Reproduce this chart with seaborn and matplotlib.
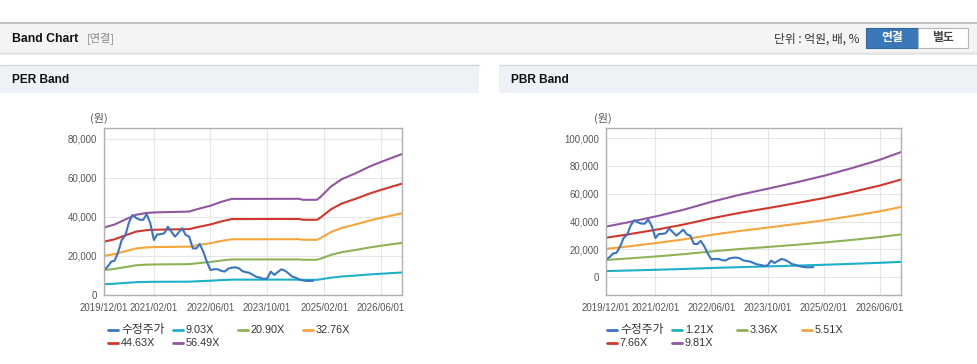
import pandas as pd
import numpy as np
import matplotlib.pyplot as plt
import matplotlib.dates as mdates
from matplotlib.patches import Rectangle
from matplotlib.lines import Line2D
from matplotlib.ticker import FuncFormatter
import seaborn as sns

# ---- data ----
price_start = '2019-12-01'
price = [12800, 14500, 17100, 17600, 22000, 28200, 30500, 37000, 41000, 39500,
         38600, 38500, 41500, 36800, 28200, 31000, 31200, 31600, 35000, 32500,
         29900, 32000, 34200, 30800, 29900, 23900, 23900, 26200, 22200, 17100,
         12800, 13200, 13200, 12400, 12000, 13500, 14000, 14200, 13700, 12300,
         11700, 11400, 10300, 9300, 8900, 8200, 8500, 12000, 10300, 11800,
         13200, 12500, 11100, 9500, 8900, 8000, 7500, 7200, 7200, 7300]

eps_dates = ['2019-12-01', '2020-03-01', '2020-06-01', '2020-09-01', '2020-12-01',
             '2021-03-01', '2021-12-01', '2022-03-01', '2022-06-01', '2022-09-01',
             '2022-12-01', '2024-07-01', '2024-08-01', '2024-12-01', '2025-01-01',
             '2025-04-01', '2025-07-01', '2025-11-01', '2026-03-01', '2026-06-01',
             '2026-09-01', '2026-12-01']
eps = [612, 640, 685, 728, 745, 750, 757, 785, 810, 845, 872, 873, 864, 864, 890,
       985, 1050, 1106, 1167, 1206, 1243, 1279]
per_multiples = [9.03, 20.90, 32.76, 44.63, 56.49]

bps_dates = ['2019-12-01', '2020-06-01', '2021-02-01', '2021-10-01', '2022-06-01',
             '2023-02-01', '2023-10-01', '2024-06-01', '2025-02-01', '2025-10-01',
             '2026-06-01', '2026-12-01']
bps = [3710, 4010, 4450, 4940, 5525, 6040, 6480, 6940, 7430, 7990, 8605, 9166]
pbr_multiples = [1.21, 3.36, 5.51, 7.66, 9.81]

band_colors = ['#1cb1c8', '#8db357', '#f5a53b', '#d1372c', '#9156a1']
price_color = '#3a74c4'
xtick_dates = ['2019-12-01', '2021-02-01', '2022-06-01', '2023-10-01', '2025-02-01', '2026-06-01']

# ---- style ----
sns.set_style('white')
plt.rcParams['font.family'] = ['Liberation Sans', 'Noto Sans CJK KR', 'DejaVu Sans']
KR = ['Noto Sans CJK KR', 'DejaVu Sans']

W, H = 978, 364
fig = plt.figure(figsize=(W / 100, H / 100), dpi=100)


def rect(x0, y0, x1, y1, **kw):
    fig.add_artist(Rectangle((x0 / W, 1 - y1 / H), (x1 - x0) / W, (y1 - y0) / H,
                             transform=fig.transFigure, **kw))


def hline(x0, x1, y, color, lw=1):
    fig.add_artist(Line2D([x0 / W, x1 / W], [1 - y / H, 1 - y / H],
                          transform=fig.transFigure, color=color, lw=lw))


def ftext(x, y, s, **kw):
    fig.text(x / W, 1 - y / H, s, **kw)


# top header bar
rect(0, 22.5, W, 52.5, facecolor='#f4f4f4', edgecolor='none')
hline(0, W, 22.5, '#b8b8b8', 1.2)
hline(0, W, 52.8, '#c6c6c6', 1.0)
hline(0, W, 54.0, '#e8e8e8', 1.2)
ftext(12, 38.5, 'Band Chart', fontsize=8.8, fontweight='bold', color='#111111', va='center')
ftext(87, 38.5, '[연결]', fontsize=8, color='#888888', va='center', family=KR)
ftext(860, 39, '단위 : 억원, 배, %', fontsize=8.5, color='#333333', va='center', ha='right', family=KR)
rect(866, 28, 918, 48, facecolor='#3a78b9', edgecolor='#2f67a3', lw=0.8)
rect(918, 28, 968, 48, facecolor='#ffffff', edgecolor='#b5b5b5', lw=0.8)
ftext(892, 38, '연결', fontsize=8.5, color='white', fontweight='bold', ha='center', va='center', family=KR)
ftext(943, 38, '별도', fontsize=8.5, color='#444444', fontweight='bold', ha='center', va='center', family=KR)

# panel headers
for x0, x1, title in [(0, 479, 'PER Band'), (499, W, 'PBR Band')]:
    rect(x0, 64.5, x1, 92.5, facecolor='#eef2f7', edgecolor='none')
    hline(x0, x1, 64.5, '#d6d6d6', 1.0)
    ftext(x0 + 12, 80, title, fontsize=8.6, fontweight='bold', color='#111111', va='center')


def make_bands(dates, base, multiples):
    frames = []
    for m in multiples:
        frames.append(pd.DataFrame({'date': pd.to_datetime(dates),
                                    'value': np.array(base) * m,
                                    'band': f'{m:.2f}X'}))
    return pd.concat(frames, ignore_index=True)


price_df = pd.DataFrame({'date': pd.date_range(price_start, periods=len(price), freq='MS'),
                         'value': price})


def draw_panel(rect_px, base_dates, base, multiples, yticks, ylim, unit_x, leg_x):
    x0, y0, x1, y1 = rect_px
    ax = fig.add_axes([x0 / W, 1 - y1 / H, (x1 - x0) / W, (y1 - y0) / H])
    bands = make_bands(base_dates, base, multiples)
    labels = [f'{m:.2f}X' for m in multiples]
    sns.lineplot(data=bands, x='date', y='value', hue='band', hue_order=labels,
                 palette=dict(zip(labels, band_colors)), linewidth=1.5,
                 legend=False, ax=ax)
    sns.lineplot(data=price_df, x='date', y='value', color=price_color,
                 linewidth=1.5, legend=False, ax=ax)
    ax.set_xlim(pd.Timestamp('2019-12-01'), pd.Timestamp('2026-12-01'))
    ax.set_ylim(*ylim)
    ax.set_xticks(pd.to_datetime(xtick_dates))
    ax.xaxis.set_major_formatter(mdates.DateFormatter('%Y/%m/%d'))
    ax.set_yticks(yticks)
    ax.yaxis.set_major_formatter(FuncFormatter(lambda v, p: f'{int(v):,}'))
    ax.set_xlabel('')
    ax.set_ylabel('')
    ax.grid(True, color='#e6e6e6', lw=0.8)
    ax.set_axisbelow(True)
    for s in ax.spines.values():
        s.set_color('#b0b0b0')
        s.set_linewidth(1.0)
    ax.tick_params(axis='both', colors='#b0b0b0', labelcolor='#555555', labelsize=6.9,
                   length=3, width=0.8)
    ax.tick_params(axis='y', pad=2)
    ax.tick_params(axis='x', pad=3)
    ftext(unit_x, 118, '(원)', fontsize=8, color='#555555', ha='center', va='center', family=KR)

    # legend, laid out in fixed-width slots like the original
    items = [('수정주가', price_color)] + list(zip(labels, band_colors))
    for i, (lab, col) in enumerate(items):
        r, c = divmod(i, 4)
        lx = leg_x + c * 65
        ly = 330 + r * 13
        fig.add_artist(Line2D([lx / W, (lx + 10) / W], [1 - ly / H, 1 - ly / H],
                              transform=fig.transFigure, color=col, lw=2))
        ftext(lx + 13, ly, lab, fontsize=7.8 if i else 8.5, color='#333333', va='center')
    return ax


draw_panel((104, 128, 402, 295), eps_dates, eps, per_multiples,
           [0, 20000, 40000, 60000, 80000], (0, 85600), 99, 108)
draw_panel((606, 128, 901, 295), bps_dates, bps, pbr_multiples,
           [0, 20000, 40000, 60000, 80000, 100000], (-12700, 107200), 603, 607)

fig.savefig('out.png', dpi=100)
